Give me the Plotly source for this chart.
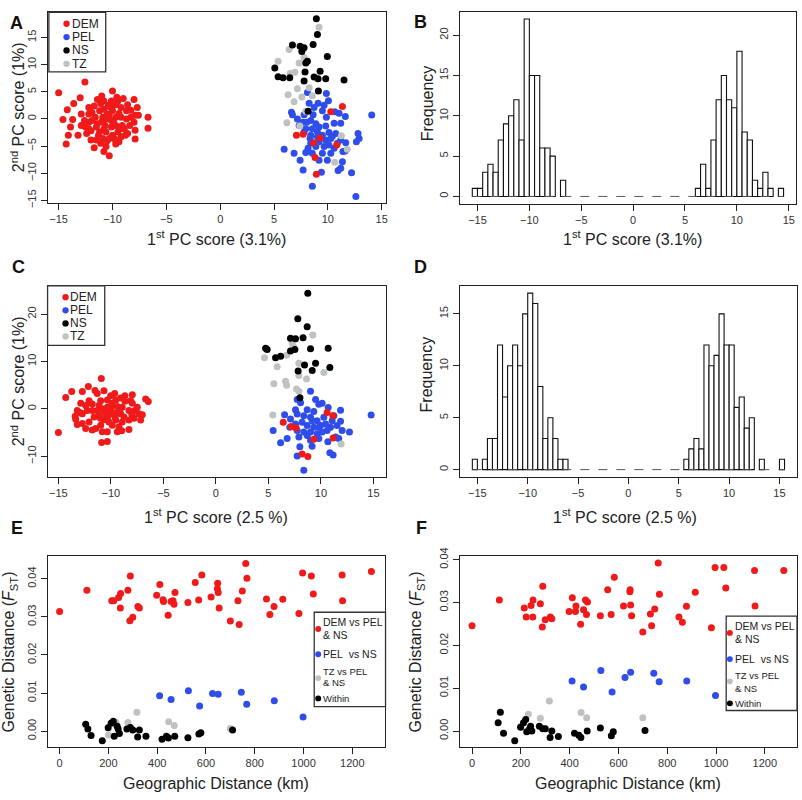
import plotly.graph_objects as go

# ---------------- DATA ----------------
# Panel A: PCA scores (PC1 3.1%, PC2 1%)
A_DEM = [(-12.56,6.8),(-15.0,4.8),(-13.6,2.85),(-13.0,3.9),(-14.2,1.7),(-14.6,-0.1),(-13.7,-0.1),(-13.9,-1.5),
         (-14.1,-3.0),(-14.3,-4.6),(-13.2,-3.0),(-12.5,-1.5),(-12.9,-1.2),(-12.4,-2.7),(-12.0,-3.9),(-11.7,-5.3),
         (-10.8,-6.0),(-10.3,-6.8),(-10.6,-5.1),(-9.7,-4.6),(-9.4,-4.2),(-10.0,5.15),(-11.4,3.6),(-10.8,3.3),
         (-10.1,3.3),(-9.5,3.3),(-9.0,3.75),(-8.0,3.6),(-7.7,2.1),(-7.9,0.7),(-7.6,0.7),(-6.7,0.3),(-6.7,-1.7),
         (-8.0,-0.6),(-7.9,-2.1),(-7.9,-3.7),(-8.6,-2.7),(-8.4,-1.2),(-8.7,1.5),(-8.7,0.0),(-9.2,0.3),(-9.1,-1.2),
         (-9.5,-2.4),(-10.1,-1.5),(-10.0,-3.0),(-10.3,-3.6),(-10.9,-3.6),(-11.2,-2.4),(-11.4,-0.9),(-11.9,-0.3),
         (-12.2,0.9),(-12.2,2.1),(-11.7,2.4),(-11.2,1.5),(-10.8,1.8),(-10.5,0.9),(-10.9,0.3),(-10.0,1.5),(-9.7,0.3),
         (-10.1,-0.3),(-10.7,-1.2),(-11.5,-1.5),(-12.2,-1.8),(-9.7,-1.2),(-9.2,2.1),(-9.7,2.6),(-10.4,2.5),
         (-11.1,2.85),(-8.3,1.6),(-8.3,0.3),(-8.8,-3.0),(-9.2,-3.3),(-10.6,-2.4),(-11.1,-4.5),(-11.5,-3.9),
         (-12.2,-0.6),(-12.6,-0.3),(-12.9,0.9),(-10.5,0.0),(-11.0,-0.5),(-9.9,-0.6),(-10.3,0.8),(-11.6,0.3),
         (-9.4,1.0),(-10.8,-1.9),(-9.3,-1.8),(-11.9,1.2),(-10.2,2.2),(-8.9,-1.8),(-11.3,-3.0),(-10.5,-4.0),
         (-9.8,-3.7),(-12.0,-2.2),(-8.6,2.6),(-9.6,4.0),(-11.0,4.2),
         (11.35,2.3),(10.27,1.3),(7.08,-3.0),(7.70,-2.8),(8.66,-4.4),(9.28,-3.5),(10.82,-4.8),(8.81,-7.1),(8.93,-10.2)]
A_PEL = [(14.07,0.73),(9.86,4.66),(8.10,4.85),(10.05,3.33),(9.09,2.9),(9.65,2.54),(8.26,2.9),(11.04,1.03),
         (11.62,0.43),(10.64,1.33),(6.62,1.21),(6.71,0.79),(7.79,0.79),(8.63,0.79),(9.86,0.3),(10.58,-0.79),
         (11.19,-0.79),(7.70,-0.6),(7.95,-1.8),(8.41,-0.3),(8.88,-0.9),(9.18,-1.5),(8.56,-1.8),(9.8,-1.3),
         (10.1,-2.5),(10.42,-3.2),(10.73,-2.7),(9.49,-3.0),(9.03,-3.3),(8.41,-3.0),(7.79,-2.4),(9.8,-3.9),
         (10.1,-4.8),(10.58,-5.4),(9.65,-5.1),(9.18,-4.2),(8.41,-4.5),(8.16,-5.4),(7.95,-6.2),(8.56,-6.3),
         (9.18,-7.6),(9.95,-7.6),(11.4,-6.0),(11.35,-7.9),(11.19,-9.1),(10.95,-9.5),(12.8,-2.7),(12.9,-3.6),
         (12.65,-4.2),(12.2,-9.9),(12.6,-14.3),(8.56,-12.4),(9.4,-9.8),(7.70,-9.4),(7.42,-7.6),(6.86,-6.3),
         (5.94,-5.6),(11.66,-4.4),(11.6,-5.9),(11.19,-3.9),(10.27,-6.3),(8.88,-5.1),(8.04,-0.6),(8.72,2.1),
         (9.49,1.5),(7.17,0.0),(7.33,-1.2),(9.03,-2.4),(10.27,-3.6),(10.88,-4.5),(9.49,-6.3),(8.35,-3.6)]
A_NS = [(8.93,18.46),(9.03,15.55),(6.71,13.6),(7.42,13.4),(7.79,13.1),(7.58,12.4),(8.63,13.7),(8.10,10.6),
        (7.95,10.3),(9.95,11.5),(5.07,9.4),(5.38,7.75),(5.84,7.57),(6.46,7.57),(7.88,8.66),(9.28,8.78),
        (8.72,7.7),(9.09,7.39),(9.8,7.39),(7.79,6.97),(11.5,7.15),(9.12,5.15),(8.16,1.4)]
A_TZ = [(9.18,16.9),(6.4,12.8),(5.38,10.6),(7.33,10.3),(7.79,11.3),(6.49,8.35),(6.93,8.6),(7.17,5.57),
        (6.31,4.43),(6.86,3.16),(7.58,4.06),(8.56,4.25),(8.26,5.75),(7.95,1.4),(6.19,-0.72),(7.39,-1.3),
        (11.25,-3.1),(10.64,-8.0),(11.8,-5.6)]

# Panel B: histogram of PC1 (bin width 0.5 starting at -15.5)
B_BIN_START = -15.5
BIN_WIDTH = 0.5
B_COUNTS = [1,1,3,4,3,7,9,10,12,7,22,15,15,6,6,5,0,2] + [0]*25 + \
           [1,4,1,7,12,15,12,11,18,8,7,2,1,3,1,0,1]

# Panel C: PCA scores (PC1 2.5%, PC2 1%)
C_DEM = [(-10.91,6.4),(-12.15,4.7),(-12.72,3.66),(-13.73,3.66),(-14.3,2.4),(-11.51,3.9),(-11.3,3.25),
         (-10.66,3.8),(-9.64,3.25),(-9.07,2.27),(-7.96,2.97),(-6.69,2.07),(-6.44,1.53),(-15.0,-5.0),
         (-10.88,-7.1),(-10.34,-6.9),(-7.96,1.18),(-8.66,1.59),(-12.87,1.18),(-13.4,-1.57),(-13.35,-2.2),
         (-13.2,-0.33),(-12.72,-1.03),(-12.25,-0.33),(-11.77,-0.33),(-11.3,-0.33),(-10.82,0.0),(-10.34,0.35),
         (-9.87,0.7),(-9.39,0.5),(-8.92,0.35),(-8.28,-0.33),(-7.71,-0.33),(-7.33,-1.03),(-7.01,-1.24),(-7.8,-2.0),
         (-8.28,-2.34),(-7.17,-2.34),(-8.92,-2.75),(-9.54,-2.34),(-9.87,-3.44),(-10.18,-2.75),(-10.66,-2.27),
         (-10.97,-3.44),(-11.45,-4.14),(-11.77,-4.48),(-12.4,-4.14),(-12.72,-3.1),(-12.08,-2.75),(-11.6,-1.72),
         (-11.13,-1.37),(-10.5,-1.03),(-10.02,-1.03),(-9.54,-0.89),(-9.07,-1.03),(-8.75,-1.72),(-9.23,-3.79),
         (-9.39,-4.82),(-8.97,-4.6),(-8.28,-4.34),(-10.82,-4.82),(-10.34,-4.82),(-12.08,1.73),(-12.4,0.7),
         (-10.97,1.73),(-10.34,1.86),(-9.54,1.86),(-10.02,2.77),(-8.66,2.77),(-8.12,1.73),(-11.13,0.7),
         (-11.77,1.03),(-7.49,0.35),(-10.0,-0.2),(-9.6,-1.8),(-10.6,-0.6),(-11.0,-2.0),(-9.2,-0.3),(-10.3,-1.6),
         (-12.9,-0.8),(-13.2,-3.3),(-8.0,-1.2),(-9.9,1.2),
         (10.59,-0.75),(11.13,-1.45),(6.41,-2.81),(7.17,-3.72),(7.64,-4.06),(9.32,-6.41),(11.16,-6.13),
         (8.21,-9.52),(8.75,-10.06)]
C_PEL = [(14.78,-1.3),(9.01,3.7),(7.74,2.0),(8.06,1.3),(9.49,2.0),(9.8,0.97),(10.11,1.18),(10.69,0.28),
         (11.87,-0.27),(11.87,-2.6),(12.72,-4.9),(12.02,-4.55),(11.7,-6.27),(11.39,-5.92),(6.54,-1.24),
         (7.1,-2.13),(7.74,-1.1),(8.37,-1.45),(9.01,-1.78),(9.64,-2.48),(10.28,-1.78),(11.07,-2.48),(8.21,-2.81),
         (8.69,-3.51),(9.32,-3.85),(9.96,-3.51),(10.59,-4.55),(5.45,-4.55),(6.78,-6.27),(6.16,-7.16),(7.9,-5.92),
         (7.99,-7.99),(9.01,-6.62),(9.8,-6.27),(9.16,-7.86),(10.66,-6.95),(10.85,-9.23),(11.16,-9.72),
         (7.74,-9.93),(8.37,-12.95),(7.04,-3.85),(7.74,-4.55),(8.37,-4.88),(9.01,-4.88),(9.64,-5.23),
         (10.11,-4.88),(8.69,-5.59),(9.8,-3.85),(11.23,-1.45),(11.54,-3.51),(9.32,-0.54),(8.69,-0.2),
         (7.58,-0.2),(10.91,-3.85),(7.58,-3.17),(9.17,-2.48),(10.44,-3.17)]
C_NS = [(8.75,24.4),(7.8,19.0),(8.69,17.3),(7.1,14.9),(7.58,14.8),(8.3,15.0),(4.73,12.8),(4.88,12.5),
        (9.01,12.7),(10.69,12.8),(5.68,10.8),(6.16,11.1),(7.1,12.2),(7.52,12.5),(8.44,9.25),(9.49,9.6),
        (9.17,8.07),(7.83,8.0),(10.85,8.7),(8.0,2.35)]
C_TZ = [(9.23,15.6),(7.26,13.9),(7.36,13.2),(4.63,10.8),(6.73,11.3),(5.83,8.9),(7.9,9.6),(10.28,7.66),
        (7.9,7.04),(8.63,6.3),(5.52,5.3),(6.63,5.8),(6.73,4.97),(7.68,4.2),(7.9,3.7),(5.42,-1.3),(11.92,-7.4)]

# Panel D: histogram of PC1 (bin width 0.5 starting at -15.5)
D_BIN_START = -15.5
D_COUNTS = [1,0,1,3,3,12,7,10,12,10,15,17,16,8,3,5,3,1,1] + [0]*23 + \
           [1,2,3,2,12,10,11,15,12,12,6,7,4,5,0,1,0,0,0,1]

# Panels E/F: geographic distance (km) vs genetic distance (Fst)
DEM_DIST = [0,112,214,222,242,250,249,280,290,288,300,321,327,398,411,424,426,445,457,465,469,473,526,556,
            570,583,621,648,647,650,654,700,731,736,749,763,768,848,862,879,915,981,996,1032,1040,1158,1160,1278]
E_DEM_FST = [0.0314,0.0370,0.0342,0.0342,0.0351,0.0361,0.0323,0.0370,0.0407,0.0290,0.0299,0.0327,0.0323,
             0.0357,0.0385,0.0345,0.0340,0.0304,0.0340,0.0342,0.0333,0.0364,0.0338,0.0390,0.0344,0.0410,
             0.0352,0.0388,0.0374,0.0364,0.0323,0.0289,0.0342,0.0280,0.0368,0.0440,0.0401,0.0347,0.0306,
             0.0327,0.0346,0.0309,0.0415,0.0407,0.0360,0.0410,0.0342,0.0419]
F_DEM_FST = [0.0246,0.0306,0.0287,0.0266,0.0293,0.0306,0.0266,0.0297,0.0338,0.0243,0.0260,0.0266,0.0262,
             0.0279,0.0311,0.0279,0.0292,0.0249,0.0283,0.0306,0.0272,0.0301,0.0269,0.0330,0.0272,0.0359,
             0.0292,0.0330,0.0325,0.0294,0.0269,0.0231,0.0273,0.0246,0.0285,0.0392,0.0319,0.0266,0.0254,
             0.0291,0.0324,0.0241,0.0382,0.0382,0.0334,0.0375,0.0292,0.0375]
PEL_DIST = [410,457,528,627,650,745,574,767,880,998]
E_PEL_FST = [0.0093,0.0083,0.0106,0.0099,0.0097,0.0102,0.0066,0.0071,0.0080,0.0037]
F_PEL_FST = [0.0117,0.0103,0.0141,0.0125,0.0137,0.0135,0.0091,0.0115,0.0117,0.0083]
TZ_DIST = [200,231,280,317,447,470,700]
E_TZ_FST = [-0.0010,0.0023,0.0023,0.0050,0.0025,0.0015,0.0007]
F_TZ_FST = [0.0011,0.0039,0.0030,0.0070,0.0043,0.0031,0.0031]
WITHIN_DIST = [107,116,129,175,199,211,220,224,240,245,236,276,290,300,327,320,354,420,438,446,472,526,571,579,709]
E_WITHIN_FST = [0.0018,0.0006,-0.0011,-0.0025,0.0009,0.0021,0.0026,-0.0013,0.0006,-0.0006,0.0013,0.0006,0.0010,
                0.0003,0.0003,-0.0015,-0.0013,-0.0021,-0.0013,-0.0018,-0.0013,-0.0017,-0.0007,-0.0004,0.0003]
F_WITHIN_FST = [0.0019,0.0044,-0.0005,-0.0023,0.0009,0.0019,0.0027,-0.0002,0.0011,0.0000,0.0005,0.0011,0.0005,
                0.0005,0.0000,-0.0015,-0.0013,-0.0005,-0.0010,-0.0015,0.0000,0.0007,-0.0011,-0.0002,0.0001]

PCA_LEGEND = ["DEM", "PEL", "NS", "TZ"]
FST_LEGEND = [["DEM vs PEL", "& NS"], ["PEL\u00a0 vs NS"], ["TZ vs PEL", "& NS"], ["Within"]]

# ---------------- STYLE / LAYOUT ----------------
W, H = 802, 800
FONT = "Liberation Sans, Arial, Helvetica, sans-serif"
RED, BLUE, BLACK, GRAY = "#F01A1A", "#2F4DEB", "#000000", "#BEC2C0"
INK = "#222222"


def px(x):
    return x / W


def py(y):
    return 1 - y / H


fig = go.Figure()


def scatter(points, color, ax, size=7):
    fig.add_trace(go.Scatter(
        x=[p[0] for p in points], y=[p[1] for p in points], mode="markers",
        marker=dict(size=size, color=color, line=dict(width=0)),
        xaxis="x" + ax, yaxis="y" + ax, showlegend=False, hoverinfo="skip"))


def scatter_xy(xs, ys, color, ax, size=7):
    fig.add_trace(go.Scatter(
        x=xs, y=ys, mode="markers", marker=dict(size=size, color=color, line=dict(width=0)),
        xaxis="x" + ax, yaxis="y" + ax, showlegend=False, hoverinfo="skip"))


def histogram(start, counts, ax):
    centers = [start + BIN_WIDTH * (i + 0.5) for i in range(len(counts))]
    end = start + BIN_WIDTH * len(counts)
    fig.add_trace(go.Scatter(x=[start, end], y=[0, 0], mode="lines",
                             line=dict(color="#555", width=1, dash="dash"),
                             xaxis="x" + ax, yaxis="y" + ax, showlegend=False, hoverinfo="skip"))
    fig.add_trace(go.Bar(x=centers, y=[c if c > 0 else None for c in counts], width=BIN_WIDTH,
                         marker=dict(color="white", line=dict(color="#111", width=1.1)),
                         xaxis="x" + ax, yaxis="y" + ax, showlegend=False, hoverinfo="skip"))


# A
scatter(A_PEL, BLUE, "")
scatter(A_TZ, GRAY, "")
scatter(A_NS, BLACK, "")
scatter(A_DEM, RED, "")
# B
histogram(B_BIN_START, B_COUNTS, "2")
# C
scatter(C_PEL, BLUE, "3")
scatter(C_TZ, GRAY, "3")
scatter(C_NS, BLACK, "3")
scatter(C_DEM, RED, "3")
# D
histogram(D_BIN_START, D_COUNTS, "4")
# E
scatter_xy(DEM_DIST, E_DEM_FST, RED, "5")
scatter_xy(PEL_DIST, E_PEL_FST, BLUE, "5")
scatter_xy(TZ_DIST, E_TZ_FST, GRAY, "5")
scatter_xy(WITHIN_DIST, E_WITHIN_FST, BLACK, "5")
# F
scatter_xy(DEM_DIST, F_DEM_FST, RED, "6")
scatter_xy(PEL_DIST, F_PEL_FST, BLUE, "6")
scatter_xy(TZ_DIST, F_TZ_FST, GRAY, "6")
scatter_xy(WITHIN_DIST, F_WITHIN_FST, BLACK, "6")


def axis(box_lo, box_hi, rng, anchor, horizontal, **kw):
    if horizontal:
        dom = [px(box_lo), px(box_hi)]
    else:
        dom = [py(box_hi), py(box_lo)]
    d = dict(domain=dom, range=rng, anchor=anchor, showline=True, linecolor=INK, linewidth=1.3,
             mirror=True, ticks="outside", ticklen=6, tickwidth=1, tickcolor=INK,
             showgrid=False, zeroline=False, fixedrange=True,
             tickfont=dict(family=FONT, size=11, color="#333"))
    if not horizontal:
        d["tickangle"] = -90
    d.update(kw)
    return d


layout = dict(
    width=W, height=H, margin=dict(l=0, r=0, t=0, b=0),
    paper_bgcolor="white", plot_bgcolor="white", showlegend=False,
    barmode="overlay",
    xaxis=axis(48, 387, [-16.0, 15.4], "y", True, dtick=5, tick0=0),
    yaxis=axis(3, 197, [-15.4, 19.7], "x", False, dtick=5, tick0=0),
    xaxis2=axis(461, 798, [-16.7, 15.7], "y2", True, dtick=5, tick0=0),
    yaxis2=axis(3, 198, [-0.88, 22.88], "x2", False, dtick=5, tick0=0),
    xaxis3=axis(48, 387, [-16.0, 16.2], "y3", True, dtick=5, tick0=0),
    yaxis3=axis(282, 476, [-14.3, 25.9], "x3", False, dtick=10, tick0=0),
    xaxis4=axis(461, 799, [-16.74, 16.74], "y4", True, dtick=5, tick0=0),
    yaxis4=axis(282, 476, [-0.68, 17.68], "x4", False, dtick=5, tick0=0),
    xaxis5=axis(48, 386, [-48, 1334], "y5", True, dtick=200, tick0=0),
    yaxis5=axis(557, 751, [-0.0041, 0.0459], "x5", False, dtick=0.01, tick0=0, tickformat=".2f"),
    xaxis6=axis(461, 799, [-50, 1332], "y6", True, dtick=200, tick0=0),
    yaxis6=axis(557, 751, [-0.0037, 0.0408], "x6", False, dtick=0.01, tick0=0, tickformat=".2f"),
)

ann = []
shapes = []


def text(x, y, s, size=16, angle=0, xanchor="center", color=INK, bold=False):
    ann.append(dict(x=px(x), y=py(y), xref="paper", yref="paper", text=("<b>%s</b>" % s) if bold else s,
                    showarrow=False, textangle=angle, xanchor=xanchor, yanchor="middle", borderpad=0,
                    font=dict(family=FONT, size=size, color=color)))


def dot(x, y, color, r=3.2):
    shapes.append(dict(type="circle", xref="paper", yref="paper", x0=px(x - r), x1=px(x + r),
                       y0=py(y + r), y1=py(y - r), fillcolor=color, line=dict(width=0), layer="above"))


def box(x0, y0, x1, y1):
    shapes.append(dict(type="rect", xref="paper", yref="paper", x0=px(x0), x1=px(x1), y0=py(y1), y1=py(y0),
                       fillcolor="white", line=dict(color="#333", width=1.3), layer="above"))


# panel letters
for lab, x, y in [("A", 17, 14), ("B", 422, 13), ("C", 19, 263), ("D", 422, 263), ("E", 17, 528), ("F", 423, 528)]:
    text(x, y, lab, size=18, bold=True, color="#111")

# axis titles
pc1a = "1<sup>st</sup> PC score (3.1%)"
pc1c = "1<sup>st</sup> PC score (2.5 %)"
pc2 = "2<sup>nd</sup> PC score (1%)"
text(217, 233, pc1a)
text(18, 100, pc2, angle=-90)
text(634, 233, pc1a)
text(428, 96, "Frequency", angle=-90)
text(217, 516, pc1c)
text(18, 379, pc2, angle=-90)
text(627, 516, pc1c)
text(428, 372, "Frequency", angle=-90)
fst_title = "Genetic Distance (<i>F</i><sub>ST</sub>)"
text(217, 788, "Geographic Distance (km)")
text(10, 654, fst_title, angle=-90)
text(630, 788, "Geographic Distance (km)")
text(418, 654, fst_title, angle=-90)

# PCA legends (A and C)
colors4 = [RED, BLUE, BLACK, GRAY]
box(49, 3.3, 106, 64)
for lab, col, y in zip(PCA_LEGEND, colors4, [15, 28.6, 42.2, 55.8]):
    dot(66.7, y, col)
    text(71, y, lab, size=12, xanchor="left")
box(47.7, 281.7, 105, 342.3)
for lab, col, y in zip(PCA_LEGEND, colors4, [293.3, 306.7, 320, 333.3]):
    dot(65.7, y, col)
    text(69.5, y, lab, size=12, xanchor="left")


# Fst legends (E and F)
def fst_legend(bx0, by0, bx1, by1, sx, tx, rows):
    box(bx0, by0, bx1, by1)
    for (lines, col, sym_y, line_ys, fsize) in rows:
        dot(sx, sym_y, col, r=3.0)
        for ln, ly in zip(lines, line_ys):
            text(tx, ly, ln, size=fsize, xanchor="left")


fst_legend(315, 614, 386.5, 710, 319, 323, [
    (FST_LEGEND[0], RED, 631, [624.3, 637.3], 10.5),
    (FST_LEGEND[1], BLUE, 656.7, [656.7], 10.5),
    (FST_LEGEND[2], GRAY, 681, [674, 686], 9.5),
    (FST_LEGEND[3], BLACK, 701.7, [701.7], 9.5),
])
fst_legend(728, 618, 799, 714, 731.7, 735.5, [
    (FST_LEGEND[0], RED, 635, [628.3, 641.7], 10.5),
    (FST_LEGEND[1], BLUE, 661.7, [661.7], 10.5),
    (FST_LEGEND[2], GRAY, 684.3, [678.3, 691.7], 9.5),
    (FST_LEGEND[3], BLACK, 706.7, [706.7], 9.5),
])

layout["annotations"] = ann
layout["shapes"] = shapes
fig.update_layout(**layout)
fig.write_html("out.html", config={"displayModeBar": False, "staticPlot": True},
               post_script="document.body.style.margin='0';document.body.style.padding='0';")
